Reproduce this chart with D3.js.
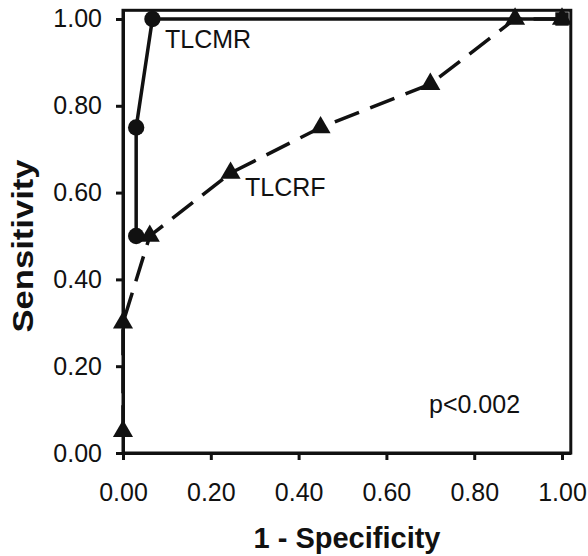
<!DOCTYPE html>
<html>
<head>
<meta charset="utf-8">
<script src="https://cdn.jsdelivr.net/npm/d3@7"></script>
<style>
  body { margin: 0; background: #fff; }
  text { font-family: "Liberation Sans", Arial, sans-serif; fill: #111; }
</style>
</head>
<body>
<svg id="chart" width="588" height="556"></svg>
<script>
// ROC data
const tickValues = [0, 0.2, 0.4, 0.6, 0.8, 1.0];
const tlcmrX = [0.03, 0.03, 0.067, 1.0];
const tlcmrY = [0.5, 0.75, 1.0, 1.0];
const tlcmrShape = ['circle', 'circle', 'circle', 'square'];
const tlcrfX = [0, 0, 0.061, 0.245, 0.45, 0.70, 0.893, 1.0];
const tlcrfY = [0.05, 0.3, 0.5, 0.645, 0.75, 0.85, 1.0, 1.0];

const svg = d3.select('#chart');
const xScale = d3.scaleLinear().domain([0, 1.02]).range([123, 570.8]);
const yScale = d3.scaleLinear().domain([0, 1.02]).range([453, 10.3]);
const fmt = d3.format('.2f');

// frame
svg.append('rect')
    .attr('x', xScale(0)).attr('y', yScale(1.02))
    .attr('width', xScale(1.02) - xScale(0))
    .attr('height', yScale(0) - yScale(1.02))
    .attr('fill', 'none').attr('stroke', '#111').attr('stroke-width', 3);

let xAxis = d3.axisBottom(xScale).tickValues(tickValues).tickFormat(fmt)
    .tickSize(7).tickSizeOuter(0);
let gx = svg.append('g').attr('transform', `translate(0, ${yScale(0)})`).call(xAxis);

let yAxis = d3.axisLeft(yScale).tickValues(tickValues).tickFormat(fmt)
    .tickSize(7).tickSizeOuter(0).tickPadding(14);
let gy = svg.append('g').attr('transform', `translate(${xScale(0)}, 0)`).call(yAxis);

[gx, gy].forEach(g => {
    g.select('.domain').attr('stroke', '#111').attr('stroke-width', 3);
    g.selectAll('.tick line').attr('stroke', '#111').attr('stroke-width', 3);
    g.selectAll('.tick text').attr('font-size', 25).attr('fill', '#111')
        .style('font-family', '"Liberation Sans", Arial, sans-serif');
});
gx.selectAll('.tick text').attr('dy', null).attr('y', 48);

// axis titles
svg.append('text')
    .attr('x', 347).attr('y', 548)
    .attr('text-anchor', 'middle').attr('font-size', 29).attr('font-weight', 'bold')
    .text('1 - Specificity');
svg.append('text')
    .attr('transform', 'translate(33, 246) rotate(-90)')
    .attr('text-anchor', 'middle').attr('font-size', 29).attr('font-weight', 'bold')
    .attr('textLength', 173).attr('lengthAdjust', 'spacingAndGlyphs')
    .text('Sensitivity');

// lines
const line = d3.line().x(d => xScale(d[0])).y(d => yScale(d[1]));
const tlcrf = d3.zip(tlcrfX, tlcrfY);
const tlcmr = d3.zip(tlcmrX, tlcmrY);

svg.append('path').datum(tlcrf)
    .attr('d', line).attr('fill', 'none')
    .attr('stroke', '#111').attr('stroke-width', 3.5)
    .attr('stroke-dasharray', '26,12');

svg.append('path').datum(tlcmr)
    .attr('d', line).attr('fill', 'none')
    .attr('stroke', '#111').attr('stroke-width', 3.5);

// markers
svg.selectAll('.tri').data(tlcrf).enter()
    .append('path').attr('class', 'tri')
    .attr('transform', d => `translate(${xScale(d[0])}, ${yScale(d[1])})`)
    .attr('d', d3.symbol(d3.symbolTriangle, 175))
    .attr('fill', '#111');

svg.selectAll('.pt').data(d3.zip(tlcmrX, tlcmrY, tlcmrShape)).enter()
    .append('path').attr('class', 'pt')
    .attr('transform', d => `translate(${xScale(d[0])}, ${yScale(d[1])})`)
    .attr('d', d => d3.symbol(d[2] == 'circle' ? d3.symbolCircle : d3.symbolSquare,
        d[2] == 'circle' ? 210 : 180)())
    .attr('fill', '#111');

// annotations
svg.append('text').attr('x', 165).attr('y', 48).attr('font-size', 25).text('TLCMR');
svg.append('text').attr('x', 245).attr('y', 196).attr('font-size', 25).text('TLCRF');
svg.append('text').attr('x', 429).attr('y', 413).attr('font-size', 25).text('p<0.002');
</script>
</body>
</html>
